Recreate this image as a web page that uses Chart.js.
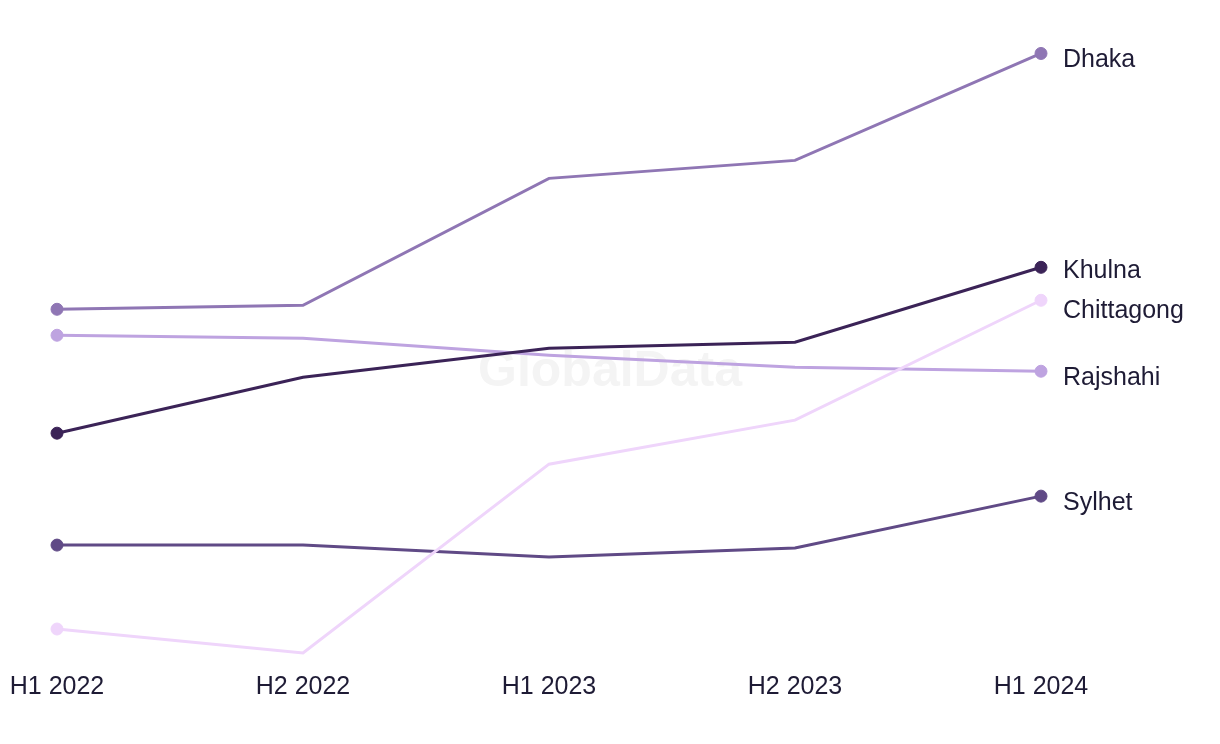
<!DOCTYPE html>
<html>
<head>
<meta charset="utf-8">
<script src="https://cdn.jsdelivr.net/npm/chart.js@4.4.1/dist/chart.umd.min.js"></script>
<style>
  html, body { margin: 0; padding: 0; background: #ffffff; }
  #wrap { width: 1220px; height: 744px; position: relative; }
</style>
</head>
<body>
<div id="wrap"><canvas id="c" width="1220" height="744"></canvas></div>
<script>
const categories = ["H1 2022", "H2 2022", "H1 2023", "H2 2023", "H1 2024"];
const seriesNames = ["Dhaka", "Khulna", "Chittagong", "Rajshahi", "Sylhet"];
const dhaka      = [39.1, 39.5, 52.2, 54.0, 64.7];
const khulna     = [26.7, 32.3, 35.2, 35.8, 43.3];
const chittagong = [7.1, 4.7, 23.6, 28.0, 40.0];
const rajshahi   = [36.5, 36.2, 34.5, 33.3, 32.9];
const sylhet     = [15.5, 15.5, 14.3, 15.2, 20.4];
const seriesColors = ["#8f76b4", "#3b2357", "#efd5fb", "#bea3e0", "#604a86"];

const allSeries = [dhaka, khulna, chittagong, rajshahi, sylhet];
const textColor = "#1e1b35";
const fontFamily = "'Liberation Sans', Arial, sans-serif";

const datasets = allSeries.map((vals, i) => ({
  label: seriesNames[i],
  data: vals,
  borderColor: seriesColors[i],
  backgroundColor: seriesColors[i],
  pointBackgroundColor: seriesColors[i],
  pointBorderColor: seriesColors[i],
  borderWidth: 3,
  pointRadius: vals.map((v, j) => (j === 0 || j === vals.length - 1) ? 6 : 0),
  pointBorderWidth: 1,
  pointHoverRadius: 0,
  tension: 0,
  fill: false
}));

const watermark = {
  id: 'watermark',
  beforeDatasetsDraw(chart) {
    const ctx = chart.ctx;
    ctx.save();
    ctx.font = "bold 50px " + fontFamily;
    ctx.fillStyle = "#f4f4f4";
    ctx.textAlign = "center";
    ctx.textBaseline = "middle";
    ctx.fillText("GlobalData", 610, 372);
    ctx.restore();
  }
};

const endLabels = {
  id: 'endLabels',
  afterDatasetsDraw(chart) {
    const ctx = chart.ctx;
    const items = [];
    chart.data.datasets.forEach((ds, i) => {
      const meta = chart.getDatasetMeta(i);
      const pt = meta.data[meta.data.length - 1];
      items.push({ text: ds.label, x: pt.x + 22, y: pt.y + 7 });
    });
    items.sort((a, b) => a.y - b.y);
    const gap = 40;
    for (let iter = 0; iter < 20; iter++) {
      let moved = false;
      for (let k = 1; k < items.length; k++) {
        const d = items[k].y - items[k - 1].y;
        if (d < gap) {
          const shift = (gap - d) / 2;
          items[k - 1].y -= shift;
          items[k].y += shift;
          moved = true;
        }
      }
      if (!moved) break;
    }
    ctx.save();
    ctx.font = "25px " + fontFamily;
    ctx.fillStyle = textColor;
    ctx.textAlign = "left";
    ctx.textBaseline = "middle";
    items.forEach(it => ctx.fillText(it.text, it.x, it.y));
    ctx.restore();
  }
};

new Chart(document.getElementById('c'), {
  type: 'line',
  data: { labels: categories, datasets },
  plugins: [watermark, endLabels],
  options: {
    responsive: false,
    animation: false,
    events: [],
    layout: { padding: { left: 57, right: 179, top: 0, bottom: 0 } },
    plugins: { legend: { display: false }, tooltip: { enabled: false } },
    scales: {
      x: {
        offset: false,
        grid: { display: false, drawTicks: false },
        border: { display: false },
        ticks: { color: textColor, font: { family: fontFamily, size: 25 }, padding: 12, maxRotation: 0, autoSkip: false },
        afterFit(scale) { scale.height = 84; scale.paddingLeft = 0; scale.paddingRight = 0; }
      },
      y: {
        display: false,
        min: 4,
        max: 69.35
      }
    }
  }
});
</script>
</body>
</html>
